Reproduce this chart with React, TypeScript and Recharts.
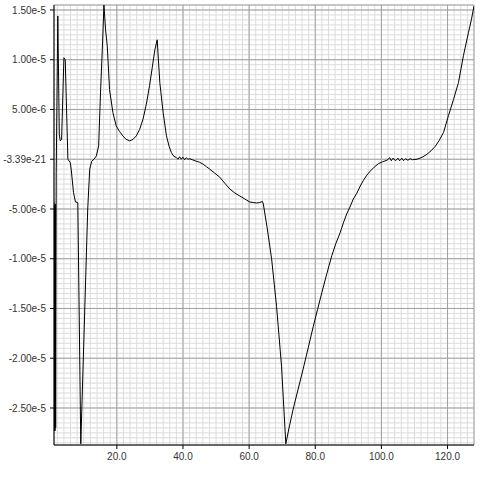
import { LineChart, Line, XAxis, YAxis, CartesianGrid } from 'recharts';

// sample positions and signal values (values in units of 1e-6)
const xs = [
  1.0, 1.1, 1.2, 1.3, 1.4, 1.5, 1.67, 2.15, 2.6, 2.9, 3.3, 4.0, 4.4, 5.2, 5.9, 6.2, 6.9, 7.5, 8.2,
  9.1, 11.2, 11.8, 12.4, 13.1, 13.8, 14.5, 15.1, 15.6, 16.1, 16.6, 17.1, 17.8, 18.8, 19.8, 20.8,
  21.8, 22.8, 23.9, 24.9, 25.9, 26.9, 27.9, 28.9, 29.9, 30.7, 31.5, 32.2, 33.0, 34.0, 35.0, 35.8,
  36.5, 37.2, 38.0, 38.5, 39.0, 39.5, 40.0, 40.5, 41.0, 41.5, 42.0, 43.0, 44.0, 45.0, 46.1, 47.1,
  48.1, 49.6, 51.1, 52.6, 54.2, 55.7, 57.2, 58.7, 60.2, 61.2, 62.3, 63.2, 64.0, 64.3, 65.5, 66.8,
  68.3, 69.8, 71.1, 72.2, 73.4, 74.9, 76.4, 77.9, 79.4, 80.7, 82.0, 83.5, 85.0, 86.2, 87.5, 88.5,
  89.5, 90.5, 91.5, 92.6, 93.6, 94.6, 95.6, 96.6, 97.8, 99.1, 100.4, 101.7, 102.5, 103.0, 103.5,
  104.3, 105.0, 105.5, 106.2, 106.7, 107.3, 108.0, 108.7, 109.4, 110.8, 112.3, 113.8, 115.0, 116.3,
  117.5, 118.8, 120.3, 121.8, 123.3, 124.8, 126.3, 127.2, 128.0,
];
const ys = [
  -4.3, -27.3, -4.6, -27.3, -4.5, -27.0, -1.3, 14.4, 2.5, 1.84, 2.0, 10.2, 10.0, 0.0, -0.33, -1.0, -3.35, -4.3, -4.35,
  -28.6, -5.0, -1.0, -0.2, 0.0, 0.33, 1.34, 7.0, 11.0, 15.5, 13.0, 11.4, 7.0, 4.7, 3.35, 2.8,
  2.35, 2.0, 1.84, 2.0, 2.35, 3.0, 4.0, 5.5, 7.4, 9.2, 11.0, 12.0, 7.7, 4.7, 2.35, 1.3,
  0.67, 0.3, 0.17, 0.0, 0.25, 0.0, 0.2, -0.05, 0.15, 0.0, 0.05, -0.07, -0.2, -0.3, -0.5, -0.75,
  -1.0, -1.4, -1.8, -2.4, -3.0, -3.4, -3.7, -4.0, -4.3, -4.35, -4.4, -4.35, -4.25, -4.5, -7.0, -10.0,
  -14.8, -20.8, -28.6, -26.8, -25.0, -23.0, -21.0, -18.9, -16.8, -15.1, -13.4, -11.5, -9.7, -8.5, -7.4, -6.4,
  -5.5, -4.8, -4.0, -3.4, -2.7, -2.1, -1.6, -1.2, -0.8, -0.45, -0.25, -0.1, 0.15, -0.15, 0.1,
  -0.15, 0.1, -0.15, 0.1, -0.15, 0.05, -0.1, 0.05, -0.05, 0.0, 0.2, 0.5, 0.85, 1.3,
  1.9, 2.7, 4.4, 6.0, 7.7, 10.4, 12.7, 14.0, 15.4,
];

const xTicks = [20, 40, 60, 80, 100, 120];
const xTickLabels = ['20.0', '40.0', '60.0', '80.0', '100.0', '120.0'];
const yTicks = [-2.5e-5, -2e-5, -1.5e-5, -1e-5, -5e-6, 0, 5e-6, 1e-5, 1.5e-5];
const yTickLabels = ['-2.50e-5', '-2.00e-5', '-1.50e-5', '-1.00e-5', '-5.00e-6', '-3.39e-21', '5.00e-6', '1.00e-5', '1.50e-5'];

const X_MIN = 1;
const X_MAX = 128;
const Y_MIN = -2.872e-5;
const Y_MAX = 1.55e-5;

const data = xs.map((x, i) => ({ x, y: ys[i] * 1e-6 }));

// minor grid every 2 units in x, every 5e-7 in y
const minorX: number[] = [];
for (let v = 2; v <= X_MAX; v += 2) minorX.push(v);
const minorY: number[] = [];
for (let k = -57; k <= 31; k++) minorY.push(k * 5e-7);

const font = { fontFamily: '"Liberation Sans", Arial, sans-serif', fontSize: 10, fill: '#333' };

export default function App() {
  return (
    <div style={{ position: 'absolute', left: 0, top: 0, width: 480, height: 480, background: '#fff' }}>
      <LineChart width={480} height={480} data={data} margin={{ top: 5, right: 6, bottom: 0, left: 0 }}>
        <CartesianGrid
          stroke="#dcdcdc"
          verticalCoordinatesGenerator={({ offset }: any) =>
            minorX.map((v) => offset.left + ((v - X_MIN) / (X_MAX - X_MIN)) * offset.width)
          }
          horizontalCoordinatesGenerator={({ offset }: any) =>
            minorY
              .filter((v) => v >= Y_MIN && v <= Y_MAX)
              .map((v) => offset.top + ((Y_MAX - v) / (Y_MAX - Y_MIN)) * offset.height)
          }
        />
        <CartesianGrid stroke="#a0a0a0" />
        <XAxis
          dataKey="x"
          type="number"
          domain={[X_MIN, X_MAX]}
          allowDataOverflow
          ticks={xTicks}
          tickFormatter={(v: number) => xTickLabels[xTicks.indexOf(v)] ?? String(v)}
          height={35}
          tickSize={4}
          tickMargin={4}
          stroke="#000"
          tick={font}
        />
        <YAxis
          type="number"
          domain={[Y_MIN, Y_MAX]}
          allowDataOverflow
          ticks={yTicks}
          tickFormatter={(v: number) => yTickLabels[yTicks.indexOf(v)] ?? String(v)}
          width={54}
          tickSize={4}
          tickMargin={4}
          stroke="#000"
          tick={font}
          interval={0}
        />
        <Line
          type="linear"
          dataKey="y"
          stroke="#000"
          strokeWidth={1}
          dot={false}
          isAnimationActive={false}
        />
      </LineChart>
    </div>
  );
}
